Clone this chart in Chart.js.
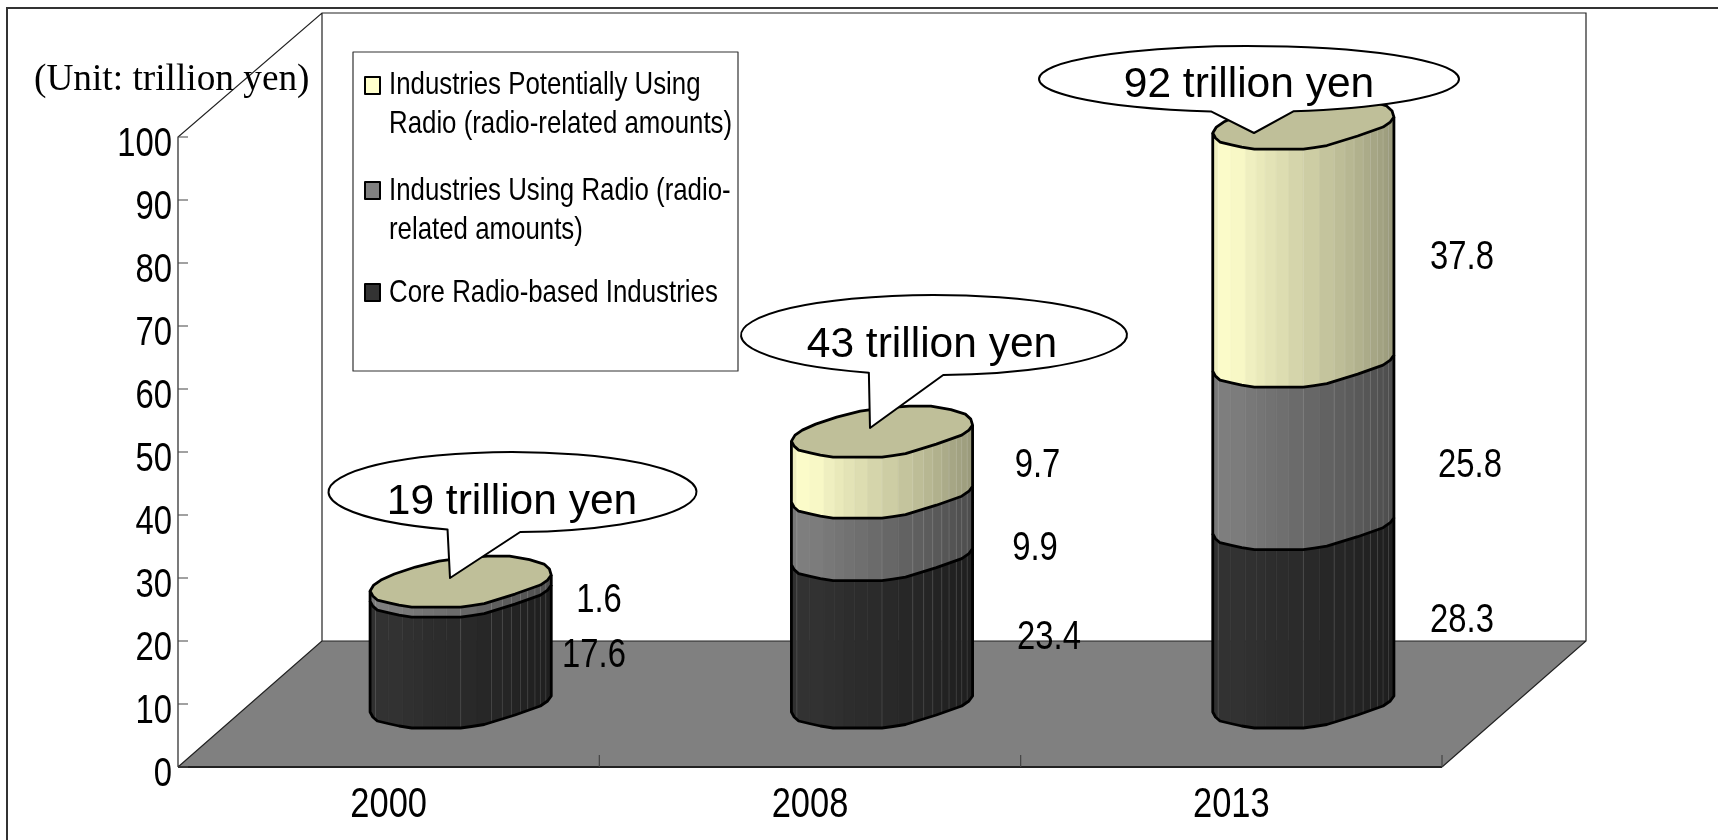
<!DOCTYPE html>
<html>
<head>
<meta charset="utf-8">
<title>Radio industries market size</title>
<script src="https://cdn.jsdelivr.net/npm/chart.js@4"></script>
<style>
  html, body { margin: 0; padding: 0; background: #fff; }
  canvas { display: block; }
</style>
</head>
<body>
<canvas id="myChart" width="1718" height="840"></canvas>
<script>
// values
const categories = ['2000', '2008', '2013'];
const coreValues = [17.6, 23.4, 28.3];
const usingValues = [1.6, 9.9, 25.8];
const potentialValues = [0, 9.7, 37.8];
const totalLabels = ['19 trillion yen', '43 trillion yen', '92 trillion yen'];
const unitLabel = '(Unit: trillion yen)';
const coreName = ['Core Radio-based Industries'];
const usingName = ['Industries Using Radio (radio-', 'related amounts)'];
const potentialName = ['Industries Potentially Using', 'Radio (radio-related amounts)'];

// no narrow face is installed, fillText gets squeezed for this family (see below)
const NARROW = '"Liberation Sans Narrow", "Liberation Sans", sans-serif';
const NARROW_X = .82;

// plot geometry
const DEPTH_X = 144, DEPTH_Y = 126;
const BASE_DX = 72, FRONT_DY = 39;   // cylinders stand in the middle of the floor

// outline of the faceted cylinder: [share of width, px above its front point]
const frontProfile = [[0, 16], [.015, 11], [.04, 7], [.11, 4], [.16, 2], [.23, 0], [.5, 0], [.56, 1.5], [.63, 3.5], [.8, 13], [.94, 22], [.98, 27], [1, 32]];
const rearProfile = [[1, 32], [.99, 38], [.96, 43], [.88, 47.5], [.77, 51], [.65, 51], [.5, 49], [.38, 46], [.25, 40], [.134, 33], [.06, 27], [.02, 22], [0, 16]];
const facetEdges = [0, .03, .1, .18, .24, .29, .35, .42, .5, .59, .67, .73, .78, .83, .87, .91, .94, .97, 1];
const seamEdges = [.03, .5, .67, .73, .78, .83, .87, .91, .94, .97];

// relative brightness across the cylinder, left to right
const shadeStops = [[0, .92], [.08, 1], [.25, .92], [.5, .82], [.75, .72], [1, .6]];

function lookup(stops, t) {
  for (let i = 1; i < stops.length; i++) {
    if (t <= stops[i][0]) {
      const a = stops[i - 1], b = stops[i];
      return a[1] + (b[1] - a[1]) * (t - a[0]) / (b[0] - a[0]);
    }
  }
  return stops[stops.length - 1][1];
}

function drawSegment(ctx, cx, yTop, yBot, R, rgb) {
  const px = t => cx - R + 2 * R * t;
  // side facets
  for (let i = 0; i < facetEdges.length - 1; i++) {
    const t1 = facetEdges[i], t2 = facetEdges[i + 1];
    const s = lookup(shadeStops, (t1 + t2) / 2);
    const col = 'rgb(' + rgb.map(c => Math.round(c * s)).join(',') + ')';
    ctx.fillStyle = col;
    ctx.strokeStyle = col;
    ctx.lineWidth = .6;
    ctx.beginPath();
    ctx.moveTo(px(t1), yBot - lookup(frontProfile, t1));
    ctx.lineTo(px(t2), yBot - lookup(frontProfile, t2));
    ctx.lineTo(px(t2), yTop - lookup(frontProfile, t2));
    ctx.lineTo(px(t1), yTop - lookup(frontProfile, t1));
    ctx.closePath();
    ctx.fill();
    ctx.stroke();
  }
  // the thin light seams between facets
  ctx.strokeStyle = 'rgba(255,255,255,.16)';
  ctx.lineWidth = .8;
  ctx.beginPath();
  seamEdges.forEach(t => {
    ctx.moveTo(px(t), yBot - lookup(frontProfile, t));
    ctx.lineTo(px(t), yTop - lookup(frontProfile, t));
  });
  ctx.stroke();
  // outline
  ctx.strokeStyle = '#000';
  ctx.lineWidth = 2.8;
  ctx.lineJoin = 'round';
  ctx.beginPath();
  ctx.moveTo(px(0), yTop - frontProfile[0][1]);
  frontProfile.forEach(p => ctx.lineTo(px(p[0]), yBot - p[1]));
  ctx.lineTo(px(1), yTop - frontProfile[frontProfile.length - 1][1]);
  ctx.stroke();
}

function drawCap(ctx, cx, yFront, R) {
  const px = t => cx - R + 2 * R * t;
  ctx.beginPath();
  frontProfile.concat(rearProfile).forEach((p, i) => {
    if (i === 0) ctx.moveTo(px(p[0]), yFront - p[1]);
    else ctx.lineTo(px(p[0]), yFront - p[1]);
  });
  ctx.closePath();
  ctx.fillStyle = '#BFBF99';
  ctx.fill();
  ctx.strokeStyle = '#000';
  ctx.lineWidth = 2.8;
  ctx.stroke();
}

// hand placed things, in canvas pixels
const calloutSpots = [
  { cx: 512.5, cy: 492, rx: 184, ry: 40, left: [450, 528], tip: [450, 578], right: [520, 531], tx: 512, ty: 502 },
  { cx: 934, cy: 335, rx: 193, ry: 40, left: [870, 372], tip: [870, 428], right: [943, 374], tx: 932, ty: 345 },
  { cx: 1249, cy: 79, rx: 210, ry: 33, left: [1211.5, 111], tip: [1254, 133], right: [1293, 111], tx: 1249, ty: 85 }
];
const valueSpots = [
  [[594, 656], [1049, 638], [1462, 621]],
  [[599, 601], [1035, 549], [1470, 466]],
  [null, [1037.5, 466], [1462, 258]]
];

function drawCallout(ctx, c, text) {
  const a1 = Math.atan2((c.left[1] - c.cy) / c.ry, (c.left[0] - c.cx) / c.rx);
  const a2 = Math.atan2((c.right[1] - c.cy) / c.ry, (c.right[0] - c.cx) / c.rx);
  ctx.beginPath();
  ctx.ellipse(c.cx, c.cy, c.rx, c.ry, 0, a1, a2 + Math.PI * 2);
  ctx.lineTo(c.tip[0], c.tip[1]);
  ctx.closePath();
  ctx.fillStyle = '#fff';
  ctx.fill();
  ctx.strokeStyle = '#000';
  ctx.lineWidth = 2;
  ctx.stroke();
  ctx.fillStyle = '#000';
  ctx.font = '42.5px "Liberation Sans", sans-serif';
  ctx.textAlign = 'center';
  ctx.textBaseline = 'middle';
  ctx.fillText(text, c.tx, c.ty);
}

const box3dPlugin = {
  id: 'box3d',
  beforeDraw(chart) {
    const ctx = chart.ctx;
    // squeeze the narrow labels, the chart's tick labels go through here too
    if (!ctx.narrowPatched) {
      const rawFill = ctx.fillText;
      ctx.fillText = function (text, x, y) {
        if (!this.font.includes('Narrow')) return rawFill.call(this, text, x, y);
        this.save();
        this.translate(x, y);
        this.scale(NARROW_X, 1);
        rawFill.call(this, text, 0, 0);
        this.restore();
      };
      ctx.narrowPatched = true;
    }
    ctx.save();
    ctx.fillStyle = '#fff';
    ctx.fillRect(0, 0, chart.width, chart.height);
    ctx.strokeStyle = '#333';
    ctx.lineWidth = 2;
    ctx.beginPath();
    ctx.moveTo(7, chart.height);
    ctx.lineTo(7, 8);
    ctx.lineTo(chart.width, 8);
    ctx.stroke();
    ctx.restore();
  },
  beforeDatasetsDraw(chart) {
    const ctx = chart.ctx;
    const { left, right, top, bottom } = chart.chartArea;
    const y = chart.scales.y;
    const x = chart.scales.x;
    ctx.save();
    // floor
    ctx.fillStyle = '#808080';
    ctx.beginPath();
    ctx.moveTo(left, bottom);
    ctx.lineTo(left + DEPTH_X, bottom - DEPTH_Y);
    ctx.lineTo(right + DEPTH_X, bottom - DEPTH_Y);
    ctx.lineTo(right, bottom);
    ctx.closePath();
    ctx.fill();
    // walls
    ctx.strokeStyle = '#222';
    ctx.lineWidth = 1.2;
    ctx.beginPath();
    ctx.moveTo(left, bottom);
    ctx.lineTo(left, top);
    ctx.lineTo(left + DEPTH_X, top - DEPTH_Y + 2);
    ctx.lineTo(right + DEPTH_X, top - DEPTH_Y + 2);
    ctx.lineTo(right + DEPTH_X, bottom - DEPTH_Y);
    ctx.lineTo(right, bottom);
    ctx.moveTo(left, bottom);
    ctx.lineTo(left + DEPTH_X, bottom - DEPTH_Y);
    ctx.lineTo(left + DEPTH_X, top - DEPTH_Y + 2);
    ctx.moveTo(left + DEPTH_X, bottom - DEPTH_Y);
    ctx.lineTo(right + DEPTH_X, bottom - DEPTH_Y);
    ctx.stroke();
    ctx.lineWidth = 2;
    ctx.beginPath();
    ctx.moveTo(left, bottom);
    ctx.lineTo(right, bottom);
    ctx.stroke();
    // tick marks point inwards
    ctx.strokeStyle = '#444';
    ctx.lineWidth = 1.2;
    ctx.beginPath();
    y.ticks.forEach(t => {
      const py = y.getPixelForValue(t.value);
      ctx.moveTo(left, py);
      ctx.lineTo(left + 10, py);
    });
    const band = (right - left) / categories.length;
    for (let i = 1; i <= categories.length; i++) {
      const px = x.getPixelForValue(i - 1) + band / 2;
      ctx.moveTo(px, bottom);
      ctx.lineTo(px, bottom - 12);
    }
    ctx.stroke();
    ctx.restore();
  },
  beforeDatasetDraw() {
    return false;  // the cylinders replace the flat bars
  },
  afterDatasetsDraw(chart) {
    const ctx = chart.ctx;
    ctx.save();
    // cylinders, taken from the bar elements
    categories.forEach((c, i) => {
      let capX = 0, capY = 0, capR = 0;
      chart.data.datasets.forEach((ds, d) => {
        const bar = chart.getDatasetMeta(d).data[i];
        const cx = bar.x + BASE_DX;
        const yTop = bar.y - FRONT_DY;
        const yBot = bar.base - FRONT_DY;
        const R = bar.width / 2;
        if (ds.data[i] > 0) {
          drawSegment(ctx, cx, yTop, yBot, R, ds.rgb);
          capX = cx; capY = yTop; capR = R;
        }
      });
      drawCap(ctx, capX, capY, capR);
    });
    // value labels
    ctx.fillStyle = '#000';
    ctx.font = '40px ' + NARROW;
    ctx.textAlign = 'center';
    ctx.textBaseline = 'middle';
    chart.data.datasets.forEach((ds, d) => {
      ds.data.forEach((v, i) => {
        const spot = valueSpots[d][i];
        if (spot) ctx.fillText(v.toFixed(1), spot[0], spot[1]);
      });
    });
    // callouts
    totalLabels.forEach((t, i) => drawCallout(ctx, calloutSpots[i], t));
    // unit
    ctx.fillStyle = '#000';
    ctx.font = '37.3px "Liberation Serif", serif';
    ctx.textAlign = 'left';
    ctx.fillText(unitLabel, 34, 80);
    // legend box
    ctx.fillStyle = '#fff';
    ctx.fillRect(353, 52, 385, 319);
    ctx.strokeStyle = '#333';
    ctx.lineWidth = 1.2;
    ctx.strokeRect(353, 52, 385, 319);
    const legendRows = [
      { ds: 2, box: 77, lines: [85, 124] },
      { ds: 1, box: 182, lines: [191, 230] },
      { ds: 0, box: 284, lines: [293] }
    ];
    legendRows.forEach(row => {
      const ds = chart.data.datasets[row.ds];
      ctx.fillStyle = ds.backgroundColor;
      ctx.strokeStyle = '#000';
      ctx.lineWidth = 2;
      ctx.fillRect(365, row.box, 15, 17);
      ctx.strokeRect(365, row.box, 15, 17);
      ctx.fillStyle = '#000';
      ctx.font = '31.5px ' + NARROW;
      ds.nameLines.forEach((line, k) => ctx.fillText(line, 389, row.lines[k]));
    });
    ctx.restore();
  }
};

new Chart(document.getElementById('myChart'), {
  type: 'bar',
  data: {
    labels: categories,
    datasets: [
      { label: coreName.join(' '), data: coreValues, backgroundColor: '#333333', rgb: [51, 51, 51], nameLines: coreName },
      { label: usingName.join(' '), data: usingValues, backgroundColor: '#808080', rgb: [128, 128, 128], nameLines: usingName },
      { label: potentialName.join(' '), data: potentialValues, backgroundColor: '#FFFFCC', rgb: [255, 255, 204], nameLines: potentialName }
    ]
  },
  options: {
    responsive: false,
    devicePixelRatio: 1,
    animation: false,
    barPercentage: .43,
    categoryPercentage: 1,
    layout: { padding: { top: 137, right: 276, left: 0, bottom: 0 } },
    plugins: { legend: { display: false }, tooltip: { enabled: false } },
    scales: {
      x: {
        stacked: true,
        grid: { display: false, drawTicks: false },
        border: { display: false },
        ticks: { color: '#000', font: { family: NARROW, size: 42 }, padding: 13, maxRotation: 0 },
        afterFit(scale) { scale.height = 73; }
      },
      y: {
        stacked: true,
        min: 0,
        max: 100,
        grid: { display: false, drawTicks: false },
        border: { display: false },
        ticks: { color: '#000', stepSize: 10, autoSkip: false, labelOffset: 8, padding: 6, font: { family: NARROW, size: 40 } },
        afterFit(scale) { scale.width = 178; }
      }
    }
  },
  plugins: [box3dPlugin]
});
</script>
</body>
</html>
